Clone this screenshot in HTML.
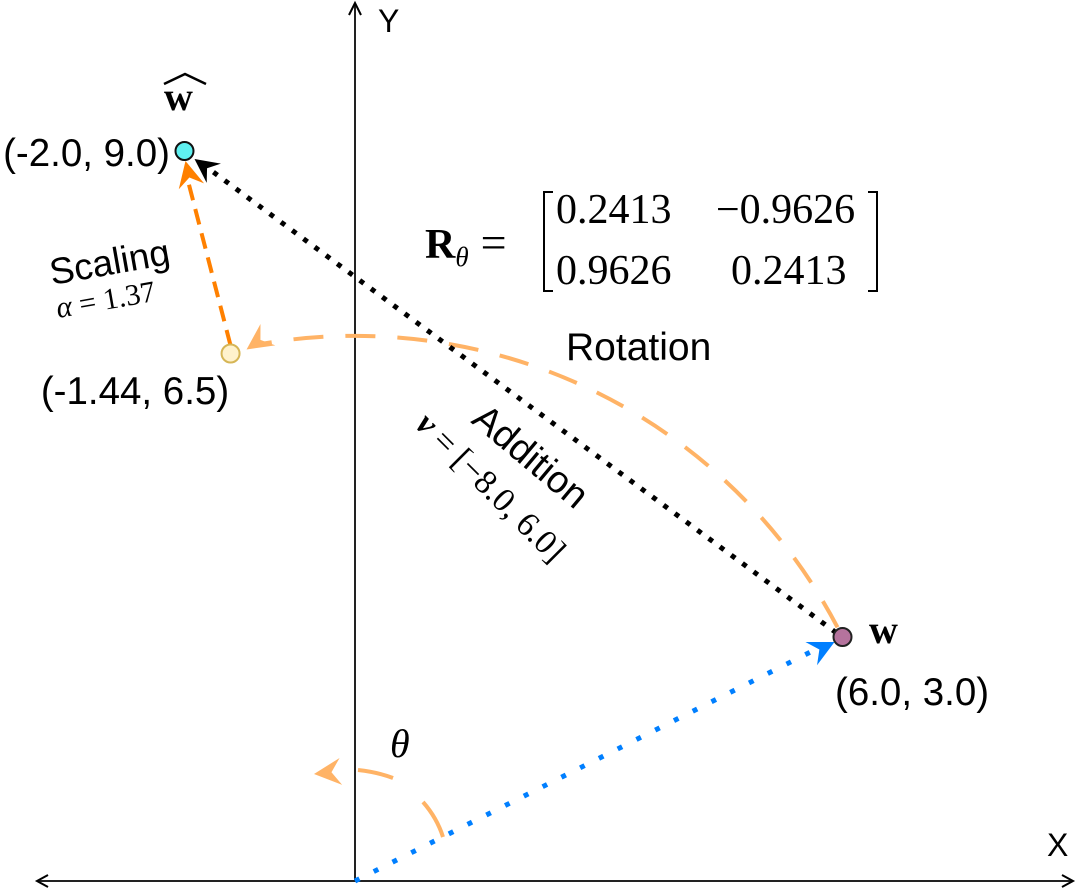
<!DOCTYPE html>
<html><head><meta charset="utf-8"><style>
body{margin:0;background:#fff}
svg{display:block;font-family:"Liberation Sans",sans-serif}
.m{font-family:"Liberation Serif",serif}
</style></head><body>
<svg id="c" width="1078" height="892" viewBox="0 0 1078 892">
<line x1="38" y1="881" x2="1072" y2="881" stroke="#222" stroke-width="2"/>
<path d="M48,875L37,881L48,887M1062,875L1073,881L1062,887" fill="none" stroke="#000" stroke-width="2"/>
<line x1="355" y1="4" x2="355" y2="881" stroke="#222" stroke-width="2"/>
<path d="M349,15L355,3L361,15" fill="none" stroke="#000" stroke-width="2"/>
<text x="378" y="32" font-size="32">Y</text>
<text x="1047" y="856" font-size="32">X</text>
<g id="marks"></g>
<text class="m" x="425" y="258" font-size="42" font-weight="bold">R<tspan font-weight="normal" font-style="italic" font-size="27" dy="8">θ</tspan><tspan dy="-8" font-weight="normal" dx="12" font-size="46">=</tspan></text>
<path d="M553,192H544V291H553" fill="none" stroke="#000" stroke-width="2"/>
<path d="M868,192H877V291H868" fill="none" stroke="#000" stroke-width="2"/>
<g class="m" font-size="42">
<text x="556" y="223">0.2413</text><text x="716" y="223">−0.9626</text>
<text x="556" y="284">0.9626</text><text x="731" y="284">0.2413</text>
</g>
<text x="566" y="360" font-size="39">Rotation</text>
<text x="470" y="422" font-size="38" transform="rotate(40 470 422)">Addition</text>
<text class="m" x="414" y="426" font-size="34" font-style="italic" transform="rotate(45 414 426)"><tspan font-weight="bold">v</tspan><tspan font-style="normal"> = [−8.0, 6.0]</tspan></text>
<text x="52" y="285" font-size="37" transform="rotate(-10 52 285)">Scaling</text>
<text class="m" x="58" y="318" font-size="30" transform="rotate(-10 58 318)"><tspan font-style="italic">α</tspan> = 1.37</text>
<text class="m" x="390" y="757" font-size="40" font-style="italic">θ</text>
<text class="m" x="164" y="110" font-size="40" font-weight="bold">w</text>
<path d="M164,84L185,74L206,84" fill="none" stroke="#000" stroke-width="2.5"/>
<text class="m" x="869" y="643" font-size="40" font-weight="bold">w</text>
</svg>
<script>
const pointNames = ["w", "w-scaled-rotated", "w-rotated"];
const pointX = [6.0, -2.0, -1.44];
const pointY = [3.0, 9.0, 6.5];
const pointLabels = ["(6.0, 3.0)", "(-2.0, 9.0)", "(-1.44, 6.5)"];
const pointFill = ["#b5739d", "#5ff0f0", "#fff2cc"];
const pointStroke = ["#222", "#111", "#d6b656"];
const xs = v => 349 + 82.25 * v;
const ys = v => 880 - 81 * v;
const ox = 355, oy = 881;
const NS = "http://www.w3.org/2000/svg";
const g = document.getElementById("marks");
function el(t, a) { const e = document.createElementNS(NS, t); for (const k in a) e.setAttribute(k, a[k]); g.appendChild(e); return e; }
function head(x1, y1, x2, y2, col, sz) {
  const a = Math.atan2(y2 - y1, x2 - x1), c = Math.cos(a), s = Math.sin(a);
  const bx = x2 - sz * c, by = y2 - sz * s, mx = x2 - sz * 0.65 * c, my = y2 - sz * 0.65 * s;
  return el("path", { d: `M${x2},${y2}L${bx - sz * 0.5 * s},${by + sz * 0.5 * c}L${mx},${my}L${bx + sz * 0.5 * s},${by - sz * 0.5 * c}Z`, fill: col });
}
const W = [xs(pointX[0]), ys(pointY[0])], H = [xs(pointX[1]), ys(pointY[1])], R = [xs(pointX[2]), ys(pointY[2])];
const rad = Math.hypot(W[0] - ox, W[1] - oy);
const a1 = Math.atan2(W[1] - oy, W[0] - ox), a2 = Math.atan2(R[1] - oy, R[0] - ox);
const s1 = a1 - 0.02, e1 = a2 + 0.04;
const rot = el("path", { d: `M${ox + rad * Math.cos(s1)},${oy + rad * Math.sin(s1)} A${rad},${rad} 0 0 0 ${ox + rad * Math.cos(e1)},${oy + rad * Math.sin(e1)}`, fill: "none", stroke: "#ffb366", "stroke-width": 4, "stroke-dasharray": "30 22" });


const ex = ox + rad * Math.cos(e1), ey = oy + rad * Math.sin(e1);
const rh = head(ex + 5, ey - 3, R[0] + 16, R[1] - 4, "#ffb366", 26);


const th = el("path", { d: `M443,837 Q437,818 423,802 M393,778 Q377,772 358,770`, fill: "none", stroke: "#ffb366", "stroke-width": 4 });


const thh = head(345, 771, 314, 774, "#ffb366", 27);


const bl = el("line", { x1: ox, y1: oy, x2: W[0] - 26, y2: W[1] + 12, stroke: "#007fff", "stroke-width": 5, "stroke-dasharray": "5 16" });


const bh = head(ox, oy, W[0] - 8, W[1] + 5, "#007fff", 26);


const ad = el("line", { x1: W[0] - 6, y1: W[1] - 4, x2: H[0] + 22, y2: H[1] + 16, stroke: "#000", "stroke-width": 5, "stroke-dasharray": "5 9" });


const ah = head(W[0], W[1], H[0] + 10, H[1] + 8, "#000", 24);


const sc = el("line", { x1: R[0], y1: R[1] - 8, x2: H[0] + 3, y2: H[1] + 28, stroke: "#ff8000", "stroke-width": 4, "stroke-dasharray": "16 9" });


const sh = head(R[0], R[1], H[0] + 1, H[1] + 10, "#ff8000", 26);


const lblPos = [[835, 705, "start"], [170, 166, "end"], [135, 404, "middle"]];
for (let i = 0; i < pointX.length; i++) {
  const c = el("circle", { cx: xs(pointX[i]), cy: ys(pointY[i]), r: 9, fill: pointFill[i], stroke: pointStroke[i], "stroke-width": 2 });
  
  
  const t = el("text", { x: lblPos[i][0], y: lblPos[i][1], "font-size": 38.5, "text-anchor": lblPos[i][2] });
  t.textContent = pointLabels[i];
  
  
}
</script>
</body></html>
